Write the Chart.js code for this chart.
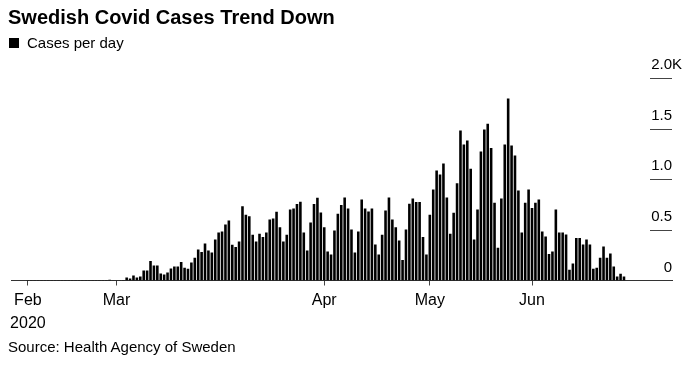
<!DOCTYPE html>
<html><head><meta charset="utf-8">
<script src="https://cdn.jsdelivr.net/npm/chart.js@4/dist/chart.umd.min.js"></script>
<style>
html,body{margin:0;padding:0;background:#fff;}
#wrap{position:relative;width:694px;height:365px;overflow:hidden;font-family:"Liberation Sans",Arial,sans-serif;color:#000;}
#c{position:absolute;left:0;top:0;}
.title{position:absolute;left:8px;top:5px;font-weight:bold;font-size:20px;line-height:24px;white-space:nowrap;}
.legend{position:absolute;left:9px;top:34px;font-size:15px;line-height:18px;white-space:nowrap;}
.legend .sw{display:inline-block;width:10px;height:10px;background:#000;margin-right:8px;position:relative;top:0px;}
.source{position:absolute;left:8px;top:338px;font-size:15px;line-height:18px;white-space:nowrap;}
</style></head>
<body>
<div id="wrap">
<canvas id="c" width="694" height="365"></canvas>
<div class="title">Swedish Covid Cases Trend Down</div>
<div class="legend"><span class="sw"></span>Cases per day</div>
<div class="source">Source: Health Agency of Sweden</div>
</div>
<script>
// Daily cases (one bar per reporting day)
const cases = [
  5,5,5,5,5,5,5,5,5,5,5,5,5,5,5,5,5,5,5,5,5,5,5,5,7,3,2,3,5,
  30,20,49,30,40,99,99,193,148,148,69,59,79,119,138,138,183,126,117,178,
  225,306,281,365,296,277,405,474,484,553,593,353,331,385,734,649,635,451,385,461,
  430,474,602,612,679,526,385,451,701,711,756,777,474,296,573,756,817,672,526,286,
  257,494,659,746,820,711,504,277,484,800,711,682,711,356,257,451,691,820,602,526,
  395,202,504,758,810,775,775,430,257,649,899,1086,1047,1156,820,461,669,961,1482,1343,
  1383,1103,405,701,1274,1491,1548,1309,767,323,810,1343,1798,1333,1235,889,474,767,899,716,
  767,800,484,435,262,286,701,474,474,454,106,168,420,420,356,405,356,116,125,224,
  336,224,267,138,40,66,40
];
const categories = cases.map((_, i) => i);
const xTickIndex = [0, 26, 87, 118, 148];
const xTickLabels = [['Feb', '2020'], 'Mar', 'Apr', 'May', 'Jun'];
const yTicks = [0, 500, 1000, 1500, 2000];
const yTickLabels = ['0', '0.5', '1.0', '1.5', '2.0'];
const yUnit = 'K';

const yAxisPlugin = {
  id: 'yAxisRight',
  afterDraw(chart) {
    const ctx = chart.ctx, y = chart.scales.y;
    const right = chart.chartArea.right;
    ctx.save();
    ctx.font = '15px "Liberation Sans", Arial, sans-serif';
    ctx.textBaseline = 'middle';
    yTicks.forEach((v, i) => {
      const py = y.getPixelForValue(v);
      if (v !== 0) {
        ctx.strokeStyle = '#444';
        ctx.lineWidth = 1;
        ctx.beginPath();
        const yy = Math.round(py) + 0.5;
        ctx.moveTo(right - 22, yy);
        ctx.lineTo(right, yy);
        ctx.stroke();
      }
      ctx.fillStyle = '#000';
      ctx.textAlign = 'right';
      ctx.fillText(yTickLabels[i], right, py - 13);
      if (i === yTicks.length - 1) {
        ctx.textAlign = 'left';
        ctx.fillText(yUnit, right, py - 13);
      }
    });
    ctx.restore();
  }
};

new Chart(document.getElementById('c'), {
  type: 'bar',
  data: {
    datasets: [{
      label: 'Cases per day',
      data: cases.map((v, i) => ({x: categories[i], y: v})),
      backgroundColor: '#000',
      borderWidth: 0,
      barPercentage: 0.76,
      categoryPercentage: 1.0
    }]
  },
  options: {
    responsive: false,
    animation: false,
    devicePixelRatio: 1,
    layout: {padding: {left: 11, right: 22, top: 78, bottom: 29.5}},
    plugins: {legend: {display: false}, tooltip: {enabled: false}, title: {display: false}},
    scales: {
      x: {
        type: 'linear',
        offset: false,
        min: -4.96,
        max: 189.1,
        afterBuildTicks: (s) => { s.ticks = xTickIndex.map(v => ({value: v})); },
        afterFit: (s) => { s.height = 55; },
        grid: {offset: false, drawOnChartArea: false, drawTicks: true, tickLength: 5, color: '#444', lineWidth: 1},
        border: {display: true, color: '#333', width: 1},
        ticks: {
          autoSkip: false, maxRotation: 0, padding: 3, color: '#000',
          font: {family: '"Liberation Sans", Arial, sans-serif', size: 16, lineHeight: 1.45},
          callback: (value) => { const k = xTickIndex.indexOf(value); return k >= 0 ? xTickLabels[k] : ''; }
        }
      },
      y: {
        display: false,
        min: 0,
        max: 2000
      }
    }
  },
  plugins: [yAxisPlugin]
});
</script>
</body></html>
